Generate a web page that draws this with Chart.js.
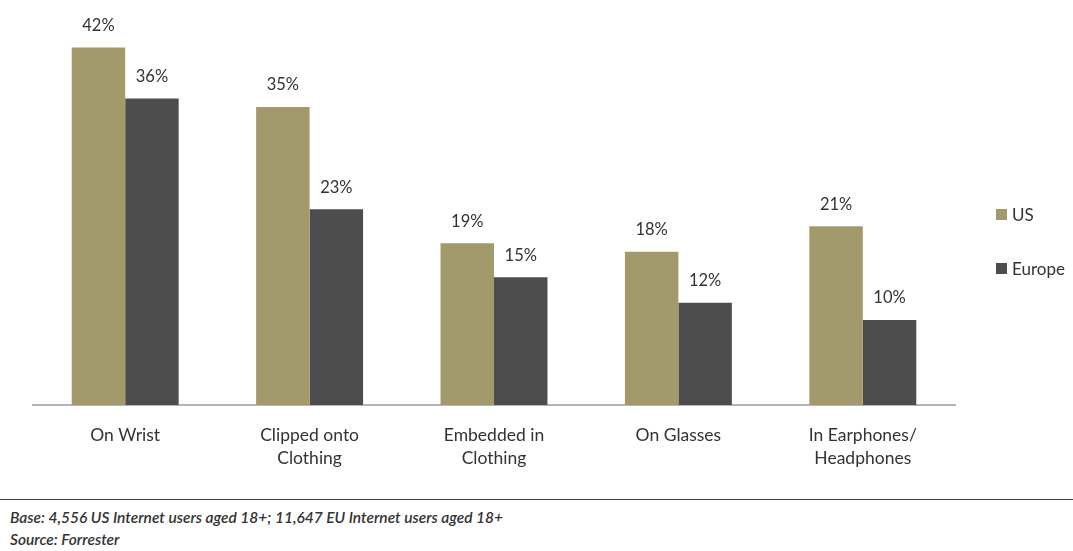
<!DOCTYPE html>
<html>
<head>
<meta charset="utf-8">
<script src="https://cdn.jsdelivr.net/npm/chart.js@4"></script>
<style>
  html, body { margin: 0; padding: 0; background: #fff; }
  body { width: 1073px; height: 551px; position: relative; overflow: hidden; font-family: Lato, 'Open Sans', sans-serif; }
  #wrap { position: absolute; left: 0; top: 0; width: 1073px; height: 480px; }
  #legend { position: absolute; left: 996px; top: 202px; font-size: 17px; color: #333; }
  #legend div { display: flex; align-items: center; height: 24px; margin-bottom: 30px; white-space: nowrap; }
  #legend span.sw { width: 11px; height: 11px; margin-right: 5px; display: inline-block; }
  #rule { position: absolute; left: 0; top: 499px; width: 1073px; height: 0; border-top: 1.5px solid #444; }
  #notes { position: absolute; left: 10px; top: 506px; font-size: 15.5px; font-style: italic; font-weight: 600; color: #333; line-height: 22px; white-space: nowrap; }
</style>
</head>
<body>
<div id="wrap"><canvas id="c"></canvas></div>
<div id="legend"></div>
<div id="rule"></div>
<div id="notes">Base: 4,556 US Internet users aged 18+; 11,647 EU Internet users aged 18+<br>Source: Forrester</div>
<script>
'use strict';

const categories = [['On Wrist'], ['Clipped onto', 'Clothing'], ['Embedded in', 'Clothing'], ['On Glasses'], ['In Earphones/', 'Headphones']];
const usValues = [42, 35, 19, 18, 21];
const europeValues = [36, 23, 15, 12, 10];
const seriesNames = ['US', 'Europe'];
const seriesColors = ['#a39a6b', '#4d4d4d'];

const FONT = "Lato, 'Open Sans', sans-serif";

// value labels above each bar
const BarLabels = {
  id: 'barLabels',
  afterDatasetsDraw(chart) {
    const { ctx } = chart;
    ctx.save();
    ctx.fillStyle = '#333';
    ctx.font = '16.5px ' + FONT;
    ctx.textAlign = 'center';
    ctx.textBaseline = 'middle';
    chart.data.datasets.forEach((ds, di) => {
      chart.getDatasetMeta(di).data.forEach((bar, i) => {
        ctx.fillText(ds.data[i] + '%', bar.x, bar.y - 22);
      });
    });
    ctx.restore();
  }
};

const canvas = document.getElementById('c');
canvas.width = 1073;
canvas.height = 480;

new Chart(canvas.getContext('2d'), {
  type: 'bar',
  data: {
    labels: categories,
    datasets: [
      { label: seriesNames[0], data: usValues, backgroundColor: seriesColors[0] },
      { label: seriesNames[1], data: europeValues, backgroundColor: seriesColors[1] }
    ]
  },
  options: {
    responsive: false,
    animation: false,
    layout: { padding: { left: 33, right: 118, top: 22, bottom: 0 } },
    datasets: { bar: { categoryPercentage: 0.58, barPercentage: 1.0 } },
    plugins: { legend: { display: false }, tooltip: { enabled: false } },
    scales: {
      x: {
        grid: { display: false, drawTicks: false },
        border: { display: true, color: '#b5b5b5', width: 2 },
        ticks: { color: '#333', padding: 19, font: { size: 17.5, family: FONT, lineHeight: 1.3 }, maxRotation: 0, autoSkip: false },
        afterFit(scale) { scale.height = 75; }
      },
      y: { display: false, min: 0, max: 45 }
    }
  },
  plugins: [BarLabels]
});

document.getElementById('legend').innerHTML = seriesNames.map((n, i) =>
  `<div><span class="sw" style="background:${seriesColors[i]}"></span>${n}</div>`).join('');
</script>
</body>
</html>
